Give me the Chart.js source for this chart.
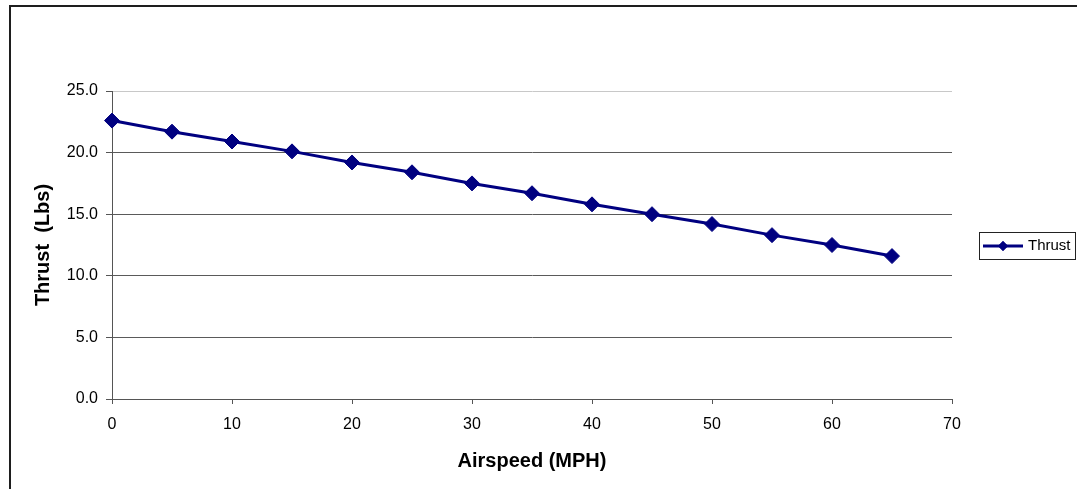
<!DOCTYPE html>
<html lang="en">
<head>
    <meta charset="UTF-8">
    <title>Thrust vs Airspeed</title>
    <script src="https://cdn.jsdelivr.net/npm/chart.js"></script>
    <style>
        body { margin: 0; background: #fff; }
        #wrap { width: 1077px; height: 489px; }
    </style>
</head>
<body>
<div id="wrap">
    <canvas id="thrustChart" width="1077" height="489"></canvas>
</div>
<script>
    // values
    var airspeed = [0, 5, 10, 15, 20, 25, 30, 35, 40, 45, 50, 55, 60, 65];
    var thrust = [22.6, 21.7, 20.9, 20.1, 19.2, 18.4, 17.5, 16.7, 15.8, 15.0, 14.2, 13.3, 12.5, 11.6];
    var seriesName = 'Thrust';
    var xTitle = 'Airspeed (MPH)';
    var yTitle = 'Thrust  (Lbs)';

    var font = "'Liberation Sans', Arial, sans-serif";
    var navy = '#000080';

    // outer chart frame (only top and left edges are visible)
    var framePlugin = {
        id: 'frame',
        beforeDraw: function(chart) {
            var ctx = chart.ctx;
            ctx.save();
            ctx.strokeStyle = '#1e1e1e';
            ctx.lineWidth = 2;
            ctx.strokeRect(10, 6, 2000, 2000);
            ctx.restore();
        }
    };

    // Excel style legend box on the right
    var legendPlugin = {
        id: 'boxLegend',
        afterDraw: function(chart) {
            var ctx = chart.ctx;
            var ds = chart.data.datasets[0];
            ctx.save();
            ctx.strokeStyle = '#222';
            ctx.lineWidth = 1;
            ctx.strokeRect(979.5, 232.5, 96, 27);
            ctx.strokeStyle = ds.borderColor;
            ctx.lineWidth = 3;
            ctx.beginPath();
            ctx.moveTo(983, 246);
            ctx.lineTo(1023, 246);
            ctx.stroke();
            ctx.fillStyle = ds.borderColor;
            Chart.helpers.drawPoint(ctx, { pointStyle: 'rectRot', radius: 5, borderWidth: 0 }, 1003, 246);
            ctx.fill();
            ctx.fillStyle = '#000';
            ctx.font = '15px ' + font;
            ctx.textBaseline = 'middle';
            ctx.fillText(ds.label, 1028, 246);
            ctx.restore();
        }
    };

    var points = airspeed.map(function(x, i) { return { x: x, y: thrust[i] }; });

    new Chart(document.getElementById('thrustChart'), {
        type: 'line',
        data: {
            datasets: [{
                label: seriesName,
                data: points,
                borderColor: navy,
                backgroundColor: navy,
                borderWidth: 3,
                pointStyle: 'rectRot',
                pointRadius: 7.5,
                pointBorderWidth: 1,
                pointBackgroundColor: navy,
                pointBorderColor: navy,
                fill: false,
                tension: 0,
                clip: false
            }]
        },
        options: {
            responsive: false,
            animation: false,
            events: [],
            layout: { padding: { top: 91, right: 125, left: 0, bottom: 0 } },
            plugins: {
                legend: { display: false },
                tooltip: { enabled: false }
            },
            scales: {
                x: {
                    type: 'linear',
                    min: 0,
                    max: 70,
                    afterFit: function(scale) { scale.height = 90; },
                    ticks: {
                        stepSize: 10,
                        padding: 11,
                        color: '#000',
                        font: { family: font, size: 16 }
                    },
                    grid: {
                        drawOnChartArea: false,
                        drawTicks: true,
                        tickLength: 5,
                        tickColor: '#555'
                    },
                    border: { color: '#555', width: 1 },
                    title: {
                        display: true,
                        text: xTitle,
                        color: '#000',
                        font: { family: font, size: 20, weight: 'bold' },
                        padding: { top: 0, bottom: 16 }
                    }
                },
                y: {
                    min: 0,
                    max: 25,
                    afterFit: function(scale) { scale.width = 112; },
                    ticks: {
                        stepSize: 5,
                        padding: 8,
                        color: '#000',
                        font: { family: font, size: 16 },
                        callback: function(v) { return v.toFixed(1); }
                    },
                    grid: {
                        color: function(c) { return c.tick && c.tick.value === 25 ? '#c8c8c8' : '#5a5a5a'; },
                        tickColor: '#555',
                        tickLength: 6
                    },
                    border: { color: '#555', width: 1 },
                    title: {
                        display: true,
                        text: yTitle,
                        color: '#000',
                        font: { family: font, size: 20, weight: 'bold' },
                        padding: { top: 31, bottom: 0 }
                    }
                }
            }
        },
        plugins: [framePlugin, legendPlugin]
    });
</script>
</body>
</html>
